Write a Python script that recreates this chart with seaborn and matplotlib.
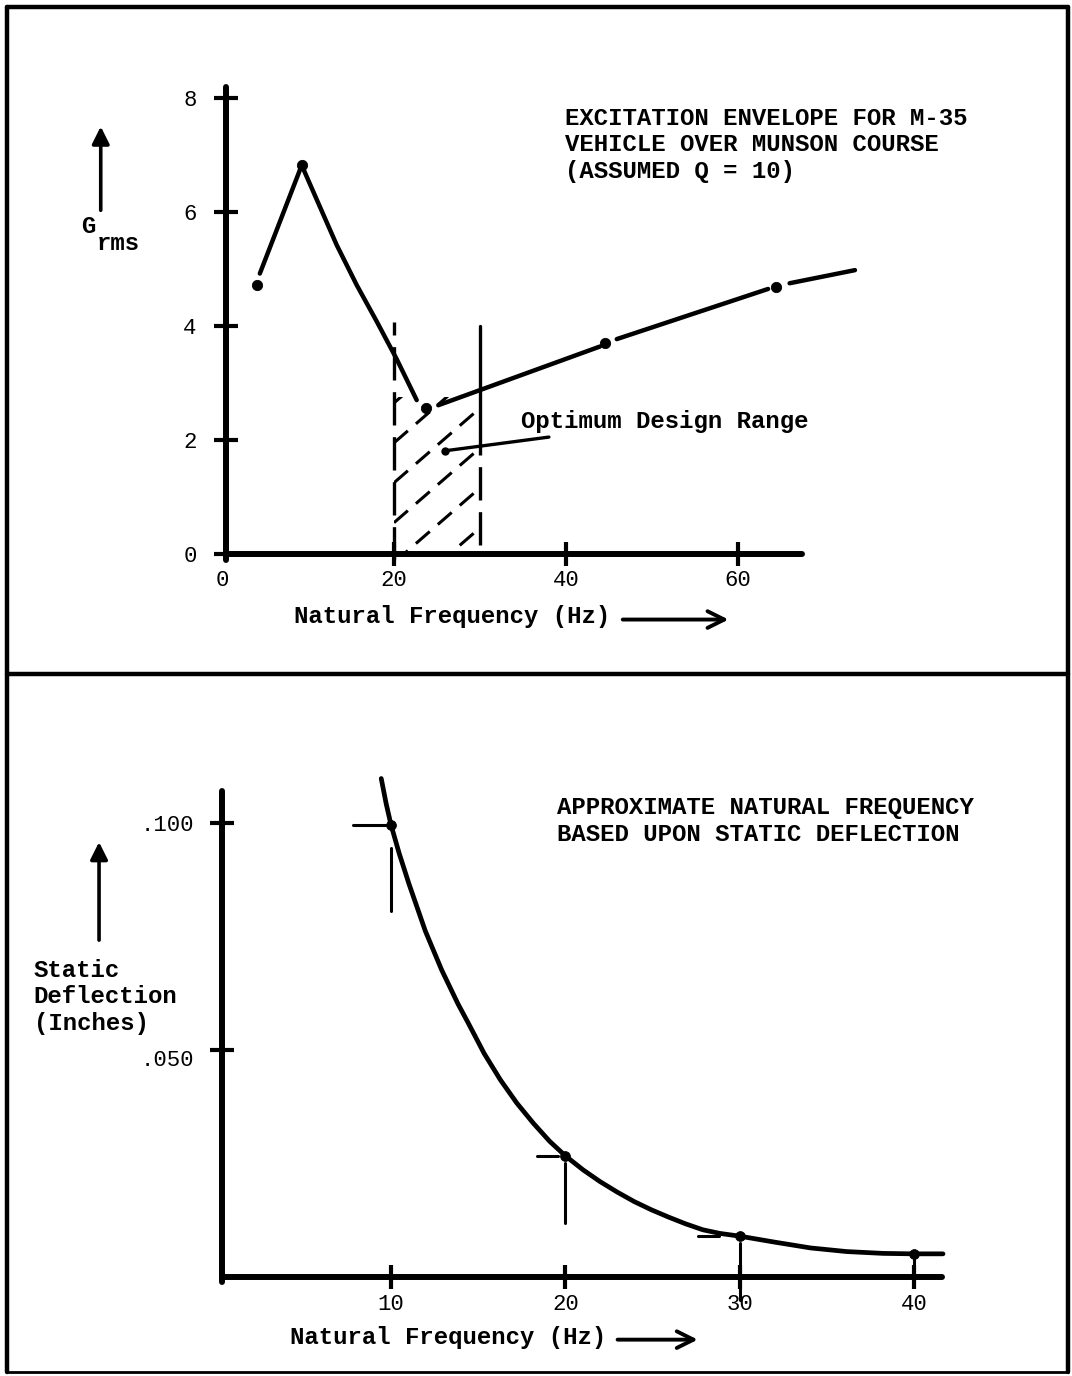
import numpy as np
import pandas as pd
import seaborn as sns
import matplotlib.pyplot as plt
from matplotlib.lines import Line2D
from matplotlib.patches import Rectangle

# --- top panel: excitation envelope (Grms vs natural frequency) ---
env_segments = [
    ([4.4, 9.27, 11.01, 13.34, 15.66, 17.99, 20.31, 22.64],
     [4.92, 6.82, 6.22, 5.42, 4.72, 4.08, 3.42, 2.70]),
    ([25.15, 43.95], [2.61, 3.64]),
    ([45.9, 63.5], [3.77, 4.65]),
    ([66.0, 73.6], [4.75, 4.98]),
]
env_dots_x = [4.03, 9.27, 23.7, 44.5, 64.4]
env_dots_y = [4.72, 6.82, 2.56, 3.70, 4.68]
opt_range = [20, 30]
opt_top = 2.75
top_xticks = [0, 20, 40, 60]
top_yticks = [0, 2, 4, 6, 8]

# --- bottom panel: static deflection vs natural frequency ---
freq = [9.44, 9.72, 10.0, 10.47, 11.03, 11.97, 12.91, 13.85, 14.41, 15.35, 16.28,
        17.22, 18.16, 19.10, 20.0, 21.02, 22.0, 22.98, 23.96, 24.94, 25.92, 26.91,
        27.89, 28.87, 30.0, 31.98, 34.07, 36.15, 38.24, 40.0, 41.67]
deflection = [0.1098, 0.1043, 0.0996, 0.0933, 0.0866, 0.0762, 0.0676, 0.0601,
              0.0561, 0.0492, 0.0434, 0.0383, 0.0339, 0.0299, 0.0267, 0.0236,
              0.0210, 0.0187, 0.0166, 0.0148, 0.0132, 0.0117, 0.0104, 0.0096,
              0.0090, 0.0077, 0.0064, 0.0056, 0.0052, 0.0051, 0.0051]
defl_dots_x = [10, 20, 30, 40]
defl_dots_y = [0.0996, 0.0267, 0.0090, 0.0051]
bot_xticks = [10, 20, 30, 40]
bot_yticks = [0.050, 0.100]
bot_yticklabels = ['.050', '.100']

sns.set_style('white')
plt.rcParams['font.family'] = ['Liberation Mono', 'DejaVu Sans Mono']
TXT = dict(family='Liberation Mono', weight='bold', fontsize=17.3, color='black')

W, H = 1072, 1376
fig = plt.figure(figsize=(W / 100, H / 100), dpi=100)


def axes_at(x0_px, xscale, xlim, y0_px, yscale, ylim, spine_x):
    # place axes so that data 0 lands on the given pixel, with given px/unit
    left = x0_px + xlim[0] * xscale
    right = x0_px + xlim[1] * xscale
    bottom = y0_px - ylim[0] * yscale
    top = y0_px - ylim[1] * yscale
    ax = fig.add_axes([left / W, (H - bottom) / H, (right - left) / W, (bottom - top) / H])
    ax.set_xlim(xlim)
    ax.set_ylim(ylim)
    ax.patch.set_alpha(0)
    for s in ['top', 'right']:
        ax.spines[s].set_visible(False)
    ax.spines['left'].set_position(('data', spine_x))
    ax.spines['bottom'].set_position(('data', 0))
    for s in ['left', 'bottom']:
        ax.spines[s].set_linewidth(4.3)
        ax.spines[s].set_color('black')
        ax.spines[s].set_capstyle('round')
    ax.tick_params(direction='inout', length=17, width=3, color='black',
                   labelsize=16, labelcolor='black', bottom=True, left=True)
    return ax


def clear_labels(ax):
    ax.set_xlabel('')
    ax.set_ylabel('')
    for lab in ax.get_xticklabels() + ax.get_yticklabels():
        lab.set_family('Liberation Mono')


# ================= TOP =================
ax1 = axes_at(222, 8.6, (-20, 95), 554, 57, (-1.8, 8.8), 0.45)
ax1.spines['left'].set_bounds(-0.1, 8.2)
ax1.spines['bottom'].set_bounds(0.45, 67.4)

for xs, ys in env_segments:
    sns.lineplot(x=xs, y=ys, ax=ax1, sort=False, color='black', lw=3.2,
                 solid_capstyle='round', solid_joinstyle='round', estimator=None)
sns.scatterplot(x=env_dots_x, y=env_dots_y, ax=ax1, color='black', s=55,
                edgecolor='black', zorder=5)

ax1.set_xlim(-20, 95)
ax1.set_ylim(-1.8, 8.8)
ax1.set_xticks(top_xticks)
ax1.set_yticks(top_yticks)
ax1.tick_params(axis='y', pad=12.5)
ax1.tick_params(axis='x', pad=3)
ax1.xaxis.get_major_ticks()[0].tick1line.set_visible(False)

# optimum design range: boundaries + dashed hatch
lo, hi = opt_range
ax1.plot([lo, lo], [-0.1, 4.07], color='black', lw=2.4, dashes=(10, 3.5))
ax1.plot([hi, hi], [2.1, 4.0], color='black', lw=2.4)
ax1.plot([hi, hi], [0.15, 2.1], color='black', lw=2.4, dashes=(10, 3.5))
clip = Rectangle((lo, 0), hi - lo, opt_top, transform=ax1.transData, visible=False)
ax1.add_patch(clip)
hx = np.array([lo, hi])
for b in np.arange(opt_top - 0.1, -1.5, -0.7):
    ln, = ax1.plot(hx, b + 0.131 * (hx - lo), color='black', lw=2.2, dashes=(6, 3.5))
    ln.set_clip_path(clip)

ax1.annotate('Optimum Design Range', xy=(25.9, 1.81), xytext=(34.8, 2.32),
             va='center', ha='left', **TXT,
             arrowprops=dict(arrowstyle='-', color='black', lw=2.4,
                             shrinkA=3, shrinkB=0))
ax1.plot([25.9], [1.81], 'o', color='black', ms=5)

ax1.text(39.9, 7.85,
         'EXCITATION ENVELOPE FOR M-35\nVEHICLE OVER MUNSON COURSE\n(ASSUMED Q = 10)',
         va='top', ha='left', linespacing=1.2, **TXT)

ax1.text(-15.6, 5.74, 'G', va='center', ha='center', **TXT)
ax1.text(-12.1, 5.45, 'rms', va='center', ha='center', **TXT)
ax1.annotate('', xy=(-14.1, 7.5), xytext=(-14.1, 6.03),
             arrowprops=dict(arrowstyle='-|>', color='black', lw=2.6,
                             mutation_scale=26, shrinkA=0, shrinkB=0))

ax1.text(8.4, -1.1, 'Natural Frequency (Hz)', va='center', ha='left', **TXT)
ax1.annotate('', xy=(58.9, -1.15), xytext=(46.6, -1.15), annotation_clip=False,
             arrowprops=dict(arrowstyle='->', color='black', lw=2.8,
                             mutation_scale=30, shrinkA=0, shrinkB=0))
clear_labels(ax1)

# ================= BOTTOM =================
ax2 = axes_at(216.7, 17.43, (-11, 48), 1277, 4540, (-0.02, 0.113), 0.3)
ax2.spines['left'].set_bounds(-0.001, 0.107)
ax2.spines['bottom'].set_bounds(0.3, 41.6)

df = pd.DataFrame({'freq': freq, 'defl': deflection})
sns.lineplot(data=df, x='freq', y='defl', ax=ax2, color='black', lw=3.4,
             solid_joinstyle='round', estimator=None)
sns.scatterplot(x=defl_dots_x, y=defl_dots_y, ax=ax2, color='black', s=50,
                edgecolor='black', zorder=5)

ax2.set_xlim(-11, 48)
ax2.set_ylim(-0.02, 0.113)
ax2.set_xticks(bot_xticks)
ax2.set_yticks(bot_yticks)
# the .050 label sits a little below its tick in the original
ax2.set_yticklabels([''] + bot_yticklabels[1:])
ax2.tick_params(axis='y', pad=11.5)
ax2.tick_params(axis='x', pad=4)
ax2.annotate(bot_yticklabels[0], xy=(0.3, bot_yticks[0]), xytext=(-28, -11),
             textcoords='offset pixels', ha='right', va='center',
             family='Liberation Mono', fontsize=16, color='black')

# reading marks beside each dot (horizontal to the left, vertical below)
h_marks = [(2.2, 0.0), (1.6, 0.4), (2.4, 1.2), None]
v_marks = [(0.005, 0.019), (0.0016, 0.0148), (0.0015, 0.0141), (0.0, 0.0071)]
for x, y, hm, vm in zip(defl_dots_x, defl_dots_y, h_marks, v_marks):
    if hm is not None:
        ax2.plot([x - hm[0], x - hm[1]], [y, y], color='black', lw=2.2)
    ax2.plot([x, x], [y - vm[0], y - vm[1]], color='black', lw=2.2)

ax2.text(19.5, 0.1004, 'APPROXIMATE NATURAL FREQUENCY\nBASED UPON STATIC DEFLECTION',
         va='center', ha='left', linespacing=1.2, **TXT)
ax2.text(-10.5, 0.0617, 'Static\nDeflection\n(Inches)', va='center', ha='left',
         linespacing=1.2, **TXT)
ax2.annotate('', xy=(-6.75, 0.0958), xytext=(-6.75, 0.0742),
             arrowprops=dict(arrowstyle='-|>', color='black', lw=2.6,
                             mutation_scale=26, shrinkA=0, shrinkB=0))
ax2.text(4.2, -0.0134, 'Natural Frequency (Hz)', va='center', ha='left', **TXT)
ax2.annotate('', xy=(27.6, -0.0138), xytext=(23.0, -0.0138), annotation_clip=False,
             arrowprops=dict(arrowstyle='->', color='black', lw=2.8,
                             mutation_scale=30, shrinkA=0, shrinkB=0))
clear_labels(ax2)


# page frame and divider
def fig_line(xs, ys, lw=3.2):
    fig.add_artist(Line2D([x / W for x in xs], [1 - y / H for y in ys],
                          transform=fig.transFigure, color='black', lw=lw))


fig_line([7, 1068], [7, 7])
fig_line([7, 7], [7, 1372])
fig_line([1068, 1068], [7, 1372])
fig_line([7, 1068], [1372, 1372], lw=2)
fig_line([7, 1068], [674, 674])

fig.savefig('out.png', dpi=100, facecolor='white')
